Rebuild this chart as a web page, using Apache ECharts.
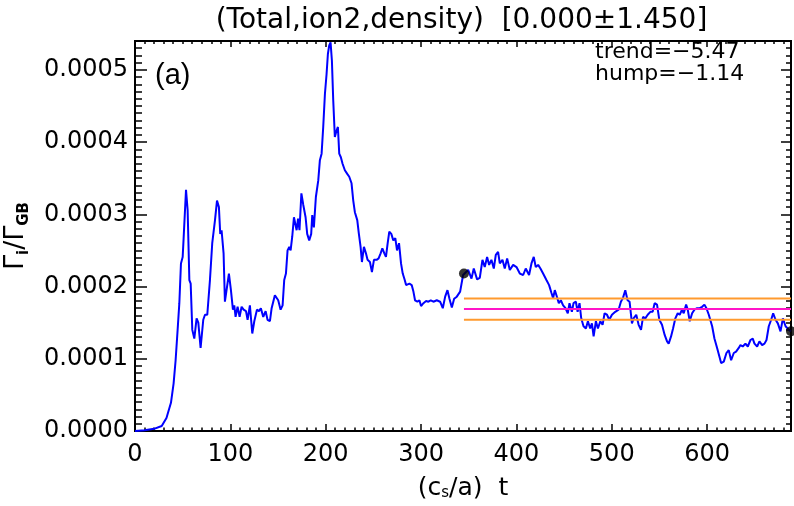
<!DOCTYPE html>
<html><head><meta charset="utf-8">
<script src="https://cdn.jsdelivr.net/npm/echarts@6/dist/echarts.min.js"></script>
<style>html,body{margin:0;padding:0;background:#fff}#c{width:794px;height:506px}</style>
</head><body><div id="c"></div>
<script>
// ---- data ----
const timeValues = [0,10,20,28,33,37.7,40.5,42.6,44.7,46.5,48.2,50,51,52,53.5,55.2,57,58.4,60.1,62.2,64.6,66.4,68.8,71.6,73.4,75.8,78.6,81,83.9,86,88,89.4,90.8,92.9,94.3,96.1,98.5,100.6,102.7,104.1,105.5,107.6,109.7,111.8,113.9,116.4,118.1,120.5,123,125.1,127.9,130,132,134.5,137,139,141.5,143.3,145,146.7,148.5,150.2,152.7,154.8,156.5,158.3,160,161.8,163.2,164.9,166.7,169.5,171,172.5,174.5,176.5,178.9,180.6,182.7,184.8,185.9,187.6,189.7,192.2,193.9,195.7,197.4,199.2,200.9,202.3,203.7,205.1,206.5,207.9,209.6,211.4,212.8,214.2,215.9,217.7,220.1,222.6,224.7,227.1,228.9,230.6,233.1,234.8,236.6,238,240.1,242.2,243.9,246.4,248.5,250.6,253.4,255.5,257.6,259.4,261.5,263.2,265,266.7,268.8,270.9,273,274.8,276.9,279,280.8,282.9,284.3,286,287.8,290.2,292,293.7,296.2,298.3,300,302.5,305.3,307.7,310.2,313,316.5,320,322.8,325.3,327.7,329.8,332.3,334.7,337.5,341,344.1,345,
349.4,352.9,355.3,358.8,361.6,364.4,366.8,369.3,371.4,373.8,376.3,378.4,380.8,382.6,385.4,387.8,390.3,393.1,396.6,400.1,403.6,407.1,409.8,413.3,415.8,418.2,420.3,422.8,425.2,428,431.5,434.3,436.8,438.5,440.3,442,444.5,446.6,449,451.5,453.9,455.7,458.2,459.9,462.4,464.2,466.2,468,470.4,472.9,475,477.4,479.2,481,483.4,485.5,488,490.4,492.5,495,497.4,500.2,503.7,507.2,509.6,511.7,514.2,516.6,518.7,521.2,522.9,525.7,528.2,530.7,532.8,535.2,537.7,540.5,542.9,545,547.5,549.9,552.7,555.5,558,559.7,562.2,564.3,566.7,569.2,571.3,573.7,575.5,578,579.7,581.8,584.3,586.7,589.5,592.3,594.8,597.2,599.3,601.8,605.3,607.7,610.5,612.9,614.7,617.5,620.3,622.7,625.2,628,630.4,633.2,635,637.4,640.2,642.7,645.5,647.9,649.7,652.5,654.9,657.7,660.2,662.3,664.7,667.2,669.3,671.8,674.2,677,679.5,682.3,684,685.8,688];
const fluxValues = [0,0.01e-4,0.03e-4,0.07e-4,0.18e-4,0.39e-4,0.66e-4,0.98e-4,1.40e-4,1.77e-4,2.32e-4,2.41e-4,2.67e-4,2.65e-4,3.34e-4,3.06e-4,2.09e-4,2.04e-4,1.40e-4,1.28e-4,1.56e-4,1.50e-4,1.15e-4,1.54e-4,1.61e-4,1.61e-4,2.09e-4,2.60e-4,2.92e-4,3.19e-4,3.10e-4,2.73e-4,2.78e-4,2.46e-4,1.79e-4,1.81e-4,2.18e-4,1.95e-4,1.68e-4,1.74e-4,1.58e-4,1.72e-4,1.58e-4,1.72e-4,1.68e-4,1.66e-4,1.54e-4,1.74e-4,1.35e-4,1.52e-4,1.68e-4,1.66e-4,1.70e-4,1.58e-4,1.66e-4,1.54e-4,1.52e-4,1.70e-4,1.68e-4,1.88e-4,1.88e-4,1.81e-4,1.68e-4,1.74e-4,2.09e-4,2.18e-4,2.50e-4,2.55e-4,2.50e-4,2.69e-4,2.96e-4,2.78e-4,2.94e-4,2.78e-4,3.29e-4,3.13e-4,2.96e-4,2.73e-4,2.64e-4,2.73e-4,2.99e-4,2.82e-4,3.24e-4,3.47e-4,3.75e-4,3.84e-4,4.21e-4,4.67e-4,4.94e-4,5.22e-4,5.34e-4,5.38e-4,5.13e-4,4.58e-4,4.07e-4,4.16e-4,4.21e-4,3.84e-4,3.79e-4,3.70e-4,3.61e-4,3.56e-4,3.52e-4,3.43e-4,3.19e-4,3.03e-4,2.92e-4,2.73e-4,2.55e-4,2.34e-4,2.55e-4,2.46e-4,2.37e-4,2.34e-4,2.20e-4,2.37e-4,2.37e-4,2.39e-4,2.46e-4,2.53e-4,2.46e-4,2.41e-4,2.60e-4,2.76e-4,2.73e-4,2.64e-4,2.67e-4,2.50e-4,2.60e-4,2.32e-4,2.18e-4,2.09e-4,2.02e-4,2.00e-4,2.04e-4,2.02e-4,1.93e-4,1.81e-4,1.79e-4,1.81e-4,1.73e-4,1.77e-4,1.80e-4,1.79e-4,1.81e-4,1.79e-4,1.81e-4,1.79e-4,1.70e-4,1.86e-4,1.95e-4,1.83e-4,1.71e-4,1.83e-4,1.86e-4,1.93e-4,2.16e-4,2.18e-4,
2.23e-4,2.11e-4,2.25e-4,2.10e-4,2.12e-4,2.37e-4,2.27e-4,2.41e-4,2.30e-4,2.37e-4,2.25e-4,2.44e-4,2.48e-4,2.32e-4,2.37e-4,2.25e-4,2.39e-4,2.23e-4,2.30e-4,2.27e-4,2.18e-4,2.16e-4,2.25e-4,2.16e-4,2.32e-4,2.41e-4,2.27e-4,2.30e-4,2.25e-4,2.18e-4,2.09e-4,2.02e-4,1.91e-4,1.84e-4,1.95e-4,1.88e-4,1.77e-4,1.81e-4,1.74e-4,1.70e-4,1.63e-4,1.77e-4,1.65e-4,1.77e-4,1.79e-4,1.65e-4,1.77e-4,1.56e-4,1.45e-4,1.42e-4,1.52e-4,1.42e-4,1.49e-4,1.31e-4,1.52e-4,1.42e-4,1.52e-4,1.47e-4,1.63e-4,1.61e-4,1.54e-4,1.61e-4,1.65e-4,1.68e-4,1.79e-4,1.84e-4,1.95e-4,1.81e-4,1.79e-4,1.49e-4,1.56e-4,1.61e-4,1.47e-4,1.40e-4,1.58e-4,1.56e-4,1.61e-4,1.65e-4,1.65e-4,1.77e-4,1.75e-4,1.54e-4,1.47e-4,1.33e-4,1.24e-4,1.21e-4,1.31e-4,1.42e-4,1.56e-4,1.63e-4,1.61e-4,1.68e-4,1.63e-4,1.75e-4,1.68e-4,1.52e-4,1.63e-4,1.68e-4,1.70e-4,1.70e-4,1.72e-4,1.75e-4,1.70e-4,1.61e-4,1.45e-4,1.28e-4,1.15e-4,1.03e-4,0.94e-4,0.96e-4,1.08e-4,1.12e-4,0.98e-4,1.08e-4,1.10e-4,1.15e-4,1.19e-4,1.17e-4,1.21e-4,1.17e-4,1.26e-4,1.28e-4,1.21e-4,1.17e-4,1.24e-4,1.19e-4,1.21e-4,1.26e-4,1.45e-4,1.54e-4,1.63e-4,1.54e-4,1.49e-4,1.38e-4,1.56e-4,1.45e-4,1.47e-4,1.40e-4,1.38e-4];
const windowTimes = [345, 688];
const meanLevel = 1.69e-4;
const upperLevel = 1.835e-4;
const lowerLevel = 1.54e-4;
const markerTimes = [345, 688];
const markerValues = [2.18e-4, 1.38e-4];
const xMin = 0, xMax = 688, xMajor = 100, xMinor = 10;
const yMin = 0, yMax = 5.4e-4, yMajor = 1e-4, yMinor = 1e-5;
const titleText = '(Total,ion2,density)  [0.000\u00b11.450]';
const panelText = '(a)';
const trendText = 'trend=\u22125.47';
const humpText = 'hump=\u22121.14';
const xName = '(c{s|s}/a)  t';
const yName = '\u0393{s|i}/\u0393{s|GB}';

// ---- chart ----
const FONT = 'DejaVu Sans';
const BLACK = '#000';
const lineData = timeValues.map((t, i) => [t, fluxValues[i]]);
const hLine = (v) => windowTimes.map(t => [t, v]);

function xAx(grid, pos, interval, len, extra) {
  return Object.assign({
    gridIndex: grid, type: 'value', position: pos, min: xMin, max: xMax, interval: interval,
    axisLine: { show: true, onZero: false, lineStyle: { color: BLACK, width: 2 } },
    axisTick: { show: true, inside: true, length: len, lineStyle: { color: BLACK, width: 1.5 } },
    axisLabel: { show: false }, splitLine: { show: false }
  }, extra || {});
}
function yAx(grid, pos, interval, len, extra) {
  return Object.assign({
    gridIndex: grid, type: 'value', position: pos, min: yMin, max: yMax, interval: interval,
    axisLine: { show: true, onZero: false, lineStyle: { color: BLACK, width: 2 } },
    axisTick: { show: true, inside: true, length: len, lineStyle: { color: BLACK, width: 1.5 } },
    axisLabel: { show: false }, splitLine: { show: false }
  }, extra || {});
}
const gridRect = { left: 135, right: 3, top: 41, bottom: 75, outerBoundsMode: 'none', containLabel: false };

const option = {
  animation: false,
  backgroundColor: '#fff',
  grid: [Object.assign({}, gridRect), Object.assign({}, gridRect)],
  xAxis: [
    xAx(0, 'bottom', xMajor, 7, {
      axisLabel: { show: true, showMaxLabel: false, color: BLACK, fontFamily: FONT, fontSize: 24, margin: 12 },
      name: xName, nameLocation: 'middle', nameGap: 45,
      nameTextStyle: { color: BLACK, fontFamily: FONT, fontSize: 25,
        rich: { s: { fontFamily: FONT, fontSize: 15, color: BLACK, verticalAlign: 'bottom', lineHeight: 14 } } }
    }),
    xAx(0, 'top', xMajor, 6),
    xAx(1, 'bottom', xMinor, 3.5),
    xAx(1, 'top', xMinor, 3)
  ],
  yAxis: [
    yAx(0, 'left', yMajor, 12, {
      axisLabel: { show: true, showMaxLabel: false, color: BLACK, fontFamily: FONT, fontSize: 24, margin: 7,
        formatter: v => v.toFixed(4) },
      name: yName, nameLocation: 'middle', nameRotate: 90, nameGap: 103,
      nameTextStyle: { color: BLACK, fontFamily: FONT, fontSize: 27, lineHeight: 32,
        rich: { s: { fontFamily: FONT, fontSize: 15, fontWeight: 'bold', color: BLACK, verticalAlign: 'bottom', lineHeight: 15 } } }
    }),
    yAx(0, 'right', yMajor, 10),
    yAx(1, 'left', yMinor, 7),
    yAx(1, 'right', yMinor, 5)
  ],
  series: [
    { type: 'line', xAxisIndex: 0, yAxisIndex: 0, data: lineData, showSymbol: false, symbol: 'none',
      lineStyle: { color: '#0000ff', width: 2 }, clip: true, z: 2 },
    { type: 'line', xAxisIndex: 0, yAxisIndex: 0, data: hLine(upperLevel), showSymbol: false, symbol: 'none',
      lineStyle: { color: '#ff9a2e', width: 2 }, z: 3 },
    { type: 'line', xAxisIndex: 0, yAxisIndex: 0, data: hLine(meanLevel), showSymbol: false, symbol: 'none',
      lineStyle: { color: '#ff14c8', width: 2 }, z: 3 },
    { type: 'line', xAxisIndex: 0, yAxisIndex: 0, data: hLine(lowerLevel), showSymbol: false, symbol: 'none',
      lineStyle: { color: '#ff9a2e', width: 2 }, z: 3 },
    { type: 'scatter', xAxisIndex: 0, yAxisIndex: 0, data: markerTimes.map((t, i) => [t, markerValues[i]]),
      symbol: 'circle', symbolSize: 10, itemStyle: { color: BLACK }, z: 4, clip: false }
  ],
  graphic: [
    { type: 'text', x: 461.5, y: 21, style: { text: titleText, font: '28px "DejaVu Sans"', fill: BLACK, textAlign: 'center', textVerticalAlign: 'middle' } },
    { type: 'text', x: 155, y: 76, style: { text: panelText, font: '29px "Liberation Sans"', fill: BLACK, textAlign: 'left', textVerticalAlign: 'middle' } },
    { type: 'text', x: 595, y: 52, style: { text: trendText, font: '22px "DejaVu Sans"', fill: BLACK, textAlign: 'left', textVerticalAlign: 'middle' } },
    { type: 'text', x: 595, y: 74, style: { text: humpText, font: '22px "DejaVu Sans"', fill: BLACK, textAlign: 'left', textVerticalAlign: 'middle' } }
  ]
};
const chart = echarts.init(document.getElementById('c'), null, { renderer: 'canvas' });
chart.setOption(option);
</script></body></html>
